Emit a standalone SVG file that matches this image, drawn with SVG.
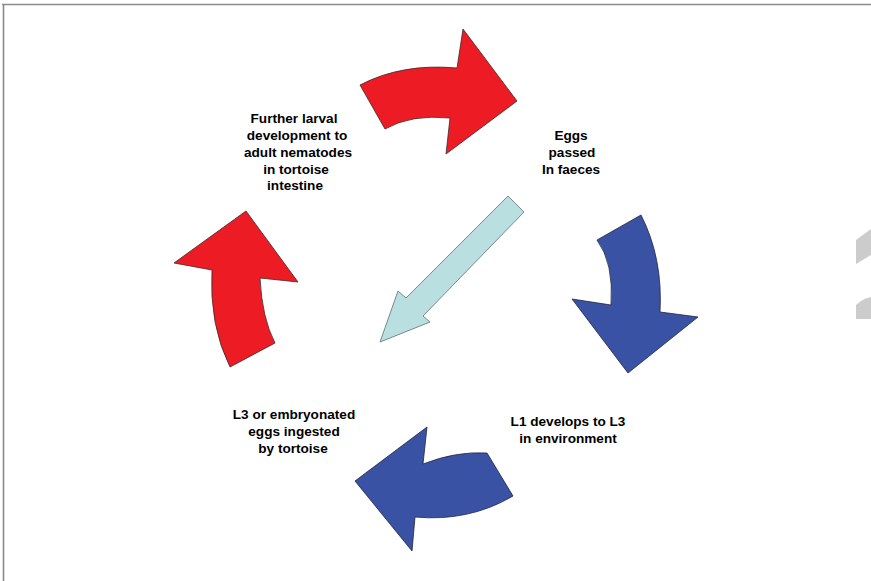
<svg xmlns="http://www.w3.org/2000/svg" width="871" height="581" viewBox="0 0 871 581">
  <style>
    .lbl { font-family: "Liberation Sans", Arial, sans-serif; font-size: 13.6px; font-weight: bold; fill: #000; text-anchor: middle; }
    .red { fill: #ed1c24; stroke: #3a2a2a; stroke-width: 0.8; stroke-linejoin: miter; }
    .blue { fill: #3952a3; stroke: #1f2540; stroke-width: 0.8; }
    .light { fill: #b9dfe1; stroke: #768a8c; stroke-width: 1; }
    .frag { fill: #cccccc; }
    .frame { stroke: #8a8a8a; stroke-width: 1.6; fill: none; }
  </style>
  <rect width="871" height="581" fill="#ffffff"/>
  <g id="frame">
    <line class="frame" x1="2" y1="4.5" x2="871" y2="4.5"/>
    <line class="frame" x1="3.5" y1="4" x2="3.5" y2="581"/>
  </g>
  <g id="fragments">
    <polygon class="frag" points="856,240 871,229 871,255 856,264"/>
    <path class="frag" d="M856,305 Q862,299 871,297 L871,319 L856,319 Z"/>
  </g>
  <g id="connectors">
    <path class="red" d="M360,85 Q402,63 457,68 L463,29 L517,101 L446,154 L450,118 Q411,114 385,129 Z"/>
    <path class="blue" d="M597,240 L641,215 Q663,258 660,312 L698,317 L628,373 L572,299 L611,305 Q614,263 597,240 Z"/>
    <path class="blue" d="M487,453 L513,496 Q469,522 415,517 L412,551 L355,481 L427,427 L423,464 Q456,451 487,453 Z"/>
    <path class="red" d="M230,367 L275,343 Q262,318 260,278 L298,282 L246,211 L174,263 L212,270 Q209,325 230,367 Z"/>
    <path class="light" d="M508,196 L524,212 L423,316 L430,322 L380,342 L398,291 L406,298 Z"/>
  </g>
  <g id="node-eggs">
    <text class="lbl" x="571" y="140">Eggs</text>
    <text class="lbl" x="572" y="157">passed</text>
    <text class="lbl" x="571" y="174">In faeces</text>
  </g>
  <g id="node-l1">
    <text class="lbl" x="568" y="426">L1 develops to L3</text>
    <text class="lbl" x="568" y="443">in environment</text>
  </g>
  <g id="node-l3">
    <text class="lbl" x="294" y="419">L3 or embryonated</text>
    <text class="lbl" x="294" y="436">eggs ingested</text>
    <text class="lbl" x="293" y="453">by tortoise</text>
  </g>
  <g id="node-further">
    <text class="lbl" x="294" y="123">Further larval</text>
    <text class="lbl" x="297" y="140">development to</text>
    <text class="lbl" x="298" y="157">adult nematodes</text>
    <text class="lbl" x="296" y="174">in tortoise</text>
    <text class="lbl" x="295" y="190">intestine</text>
  </g>
</svg>
